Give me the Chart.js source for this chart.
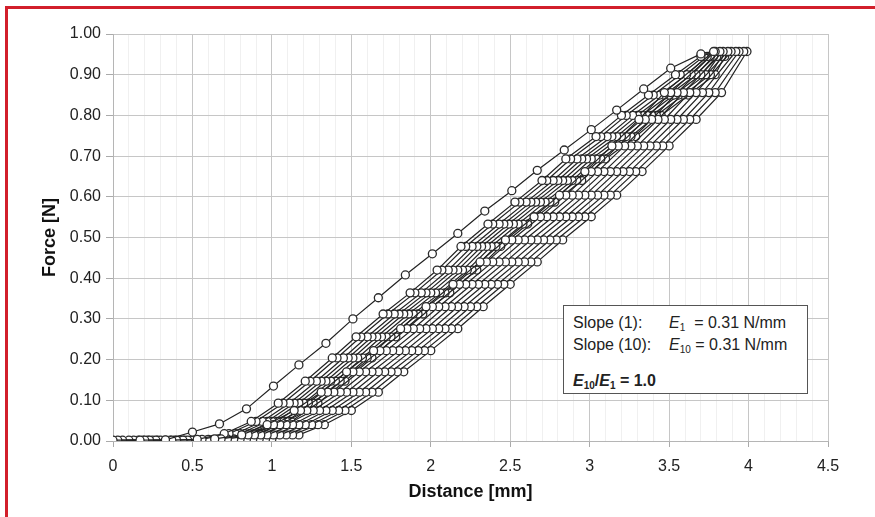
<!DOCTYPE html>
<html>
<head>
<meta charset="utf-8">
<script src="https://cdn.jsdelivr.net/npm/chart.js@4/dist/chart.umd.min.js"></script>
<style>
  html, body { margin:0; padding:0; background:#fff; }
  #wrap { position:relative; width:875px; height:517px; overflow:hidden; }
  #frame { position:absolute; left:5px; top:6px; width:900px; height:600px;
           border-left:3px solid #d21f2b; border-top:3px solid #d21f2b; }
  #chart { position:absolute; left:0; top:0; }
  #note { position:absolute; left:563px; top:305px; width:243px; height:87px;
          border:1.5px solid #555; background:#fff; color:#222;
          font-family:"Liberation Sans", Arial, sans-serif; font-size:16px; }
  #note span { position:absolute; white-space:nowrap; line-height:18px; }
  #note sub { font-size:10px; vertical-align:-3px; line-height:0; }
</style>
</head>
<body>
<div id="wrap">
  <div id="frame"></div>
  <canvas id="chart" width="875" height="517"></canvas>
  <div id="note">
    <span style="left:9px;top:8px">Slope (1):</span>
    <span style="left:105px;top:8px"><i>E</i><sub>1</sub>&nbsp; = 0.31 N/mm</span>
    <span style="left:9px;top:30px">Slope (10):</span>
    <span style="left:105px;top:30px"><i>E</i><sub>10</sub> = 0.31 N/mm</span>
    <span style="left:9px;top:66px;font-weight:bold"><i>E</i><sub>10</sub>/<i>E</i><sub>1</sub> = 1.0</span>
  </div>
</div>
<script>
/* -------- DATA -------- */
// first loading cycle
const loadForceFirst = [0.002,0.002,0.003,0.022,0.042,0.079,0.135,0.187,0.240,0.300,0.352,0.408,
                        0.460,0.510,0.565,0.615,0.665,0.715,0.765,0.813,0.865,0.916,0.951,0.957];
// loading cycles 2..10 (same force samples)
const loadForce = [0.002,0.002,0.002,0.004,0.018,0.048,0.093,0.147,0.204,0.256,0.312,0.364,
                   0.420,0.478,0.533,0.587,0.640,0.693,0.748,0.800,0.850,0.900,0.945,0.957];
// unloading, all cycles
const unloadForce = [0.856,0.790,0.725,0.662,0.604,0.551,0.494,0.440,0.385,0.330,0.276,0.222,
                     0.170,0.120,0.075,0.040,0.015,0.005];

const loadDist = [
  [0.00,0.17,0.33,0.50,0.67,0.84,1.01,1.17,1.34,1.51,1.67,1.84,2.01,2.17,2.34,2.51,2.67,2.84,3.01,3.17,3.34,3.51,3.70,3.78],
  [0.03,0.20,0.37,0.53,0.70,0.87,1.04,1.21,1.38,1.53,1.70,1.87,2.04,2.19,2.36,2.53,2.70,2.85,3.04,3.20,3.37,3.54,3.70,3.79],
  [0.06,0.23,0.40,0.56,0.73,0.90,1.07,1.24,1.41,1.56,1.73,1.90,2.07,2.22,2.39,2.56,2.73,2.88,3.07,3.23,3.40,3.57,3.72,3.82],
  [0.10,0.27,0.44,0.60,0.77,0.94,1.11,1.28,1.45,1.60,1.77,1.94,2.11,2.26,2.43,2.60,2.77,2.92,3.11,3.27,3.44,3.61,3.74,3.84],
  [0.13,0.30,0.47,0.63,0.80,0.97,1.14,1.31,1.48,1.63,1.80,1.97,2.14,2.29,2.46,2.63,2.80,2.95,3.14,3.30,3.47,3.64,3.76,3.87],
  [0.16,0.33,0.50,0.66,0.83,1.00,1.17,1.34,1.51,1.66,1.83,2.00,2.17,2.32,2.49,2.66,2.83,2.98,3.17,3.33,3.50,3.67,3.78,3.89],
  [0.19,0.36,0.53,0.69,0.86,1.03,1.20,1.37,1.54,1.69,1.86,2.03,2.20,2.35,2.52,2.69,2.86,3.01,3.20,3.36,3.53,3.70,3.80,3.92],
  [0.22,0.39,0.56,0.72,0.89,1.06,1.23,1.40,1.57,1.72,1.89,2.06,2.23,2.38,2.55,2.72,2.89,3.04,3.23,3.39,3.56,3.73,3.81,3.94],
  [0.25,0.42,0.59,0.75,0.92,1.09,1.26,1.43,1.60,1.75,1.92,2.09,2.26,2.41,2.58,2.75,2.92,3.07,3.26,3.42,3.59,3.76,3.83,3.97],
  [0.28,0.45,0.62,0.78,0.95,1.12,1.29,1.46,1.63,1.78,1.95,2.12,2.29,2.44,2.61,2.78,2.95,3.10,3.29,3.45,3.62,3.79,3.85,3.99]
];

const unloadDist = [
  [3.47,3.31,3.14,2.97,2.81,2.65,2.47,2.31,2.14,1.97,1.81,1.64,1.47,1.31,1.14,0.97,0.81,0.64],
  [3.51,3.35,3.18,3.01,2.85,2.69,2.51,2.35,2.18,2.01,1.85,1.68,1.51,1.35,1.18,1.01,0.85,0.68],
  [3.55,3.39,3.22,3.05,2.89,2.73,2.55,2.39,2.22,2.05,1.89,1.72,1.55,1.39,1.22,1.05,0.89,0.72],
  [3.59,3.43,3.26,3.09,2.93,2.77,2.59,2.43,2.26,2.09,1.93,1.76,1.59,1.43,1.26,1.09,0.93,0.76],
  [3.63,3.47,3.30,3.13,2.97,2.81,2.63,2.47,2.30,2.13,1.97,1.80,1.63,1.47,1.30,1.13,0.97,0.80],
  [3.67,3.51,3.34,3.17,3.01,2.85,2.67,2.51,2.34,2.17,2.01,1.84,1.67,1.51,1.34,1.17,1.01,0.84],
  [3.71,3.55,3.38,3.21,3.05,2.89,2.71,2.55,2.38,2.21,2.05,1.88,1.71,1.55,1.38,1.21,1.05,0.88],
  [3.75,3.59,3.42,3.25,3.09,2.93,2.75,2.59,2.42,2.25,2.09,1.92,1.75,1.59,1.42,1.25,1.09,0.92],
  [3.79,3.63,3.46,3.29,3.13,2.97,2.79,2.63,2.46,2.29,2.13,1.96,1.79,1.63,1.46,1.29,1.13,0.96],
  [3.83,3.67,3.50,3.33,3.17,3.01,2.83,2.67,2.50,2.33,2.17,2.00,1.83,1.67,1.50,1.33,1.17,1.00]
];

/* -------- BUILD DATASETS -------- */
let datasets = [];
for(let i=0;i<loadDist.length;i++){
  let lf = i===0 ? loadForceFirst : loadForce;
  let pts = loadDist[i].map((x,j)=>({x:x, y:lf[j]}));
  unloadDist[i].forEach((x,j)=>pts.push({x:x, y:unloadForce[j]}));
  datasets.push({
    label:"Cycle "+(i+1),
    data:pts,
    showLine:true,
    borderColor:"#222",
    borderWidth:1.2,
    pointRadius:4,
    pointBackgroundColor:"#fff",
    pointBorderColor:"#2a2a2a",
    pointBorderWidth:1.3,
    tension:0
  });
}

const isMajor = v => Math.abs(v*2 - Math.round(v*2)) < 1e-6;
const tickFont = {family:"'Liberation Sans', Arial, sans-serif", size:16};
const titleFont = {family:"'Liberation Sans', Arial, sans-serif", size:18, weight:"bold"};

new Chart(document.getElementById("chart"),{
  type:"scatter",
  data:{datasets:datasets},
  options:{
    responsive:false,
    animation:false,
    devicePixelRatio:1,
    layout:{padding:{left:35, right:47, top:34, bottom:10}},
    plugins:{legend:{display:false}, tooltip:{enabled:false}},
    scales:{
      x:{
        type:"linear", min:0, max:4.5,
        afterFit: s => { s.height = 66; },
        ticks:{
          stepSize:0.1, autoSkip:false, maxRotation:0, padding:10,
          color:"#222", font:tickFont,
          callback: v => isMajor(v) ? String(Math.round(v*10)/10) : ""
        },
        grid:{
          color: c => isMajor(c.tick.value) ? "#c6c6c6" : "#f0f0f0",
          tickColor: c => isMajor(c.tick.value) ? "#aaa" : "rgba(0,0,0,0)",
          tickLength:6
        },
        border:{color:"#b5b5b5"},
        title:{display:true, text:"Distance [mm]", color:"#111", font:titleFont, padding:{top:4,bottom:4}}
      },
      y:{
        type:"linear", min:0, max:1,
        afterFit: s => { s.width = 78; },
        ticks:{
          stepSize:0.1, color:"#222", font:tickFont, padding:5,
          callback: v => v.toFixed(2)
        },
        grid:{color:"#c6c6c6", tickColor:"#aaa", tickLength:7},
        border:{color:"#b5b5b5"},
        title:{display:true, text:"Force [N]", color:"#111", font:titleFont, padding:{top:4,bottom:4}}
      }
    }
  }
});
</script>
</body>
</html>
